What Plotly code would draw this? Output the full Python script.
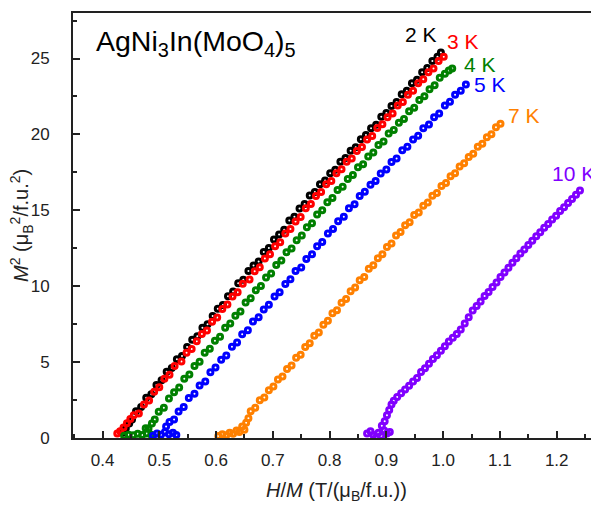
import plotly.graph_objects as go

# ---- data (H/M in T/(muB/f.u.), M^2 in muB^2/f.u.^2) ----
x_2K = [0.436,0.441,0.447,0.452,0.459,0.468,0.477,0.486,0.495,0.504,0.513,0.522,0.531,0.540,0.549,0.558,0.567,0.576,0.585,0.594,0.603,0.612,0.621,0.630,0.639,0.648,0.657,0.666,0.675,0.684,0.693,0.702,0.711,0.720,0.729,0.738,0.747,0.756,0.765,0.774,0.783,0.792,0.801,0.810,0.819,0.828,0.837,0.846,0.855,0.864,0.873,0.882,0.891,0.900,0.909,0.918,0.927,0.936,0.945,0.954,0.963,0.972,0.981,0.990,0.996]
y_2K = [0.35,0.62,0.95,1.22,1.77,2.05,2.65,2.88,3.49,3.81,4.36,4.62,5.19,5.41,6.00,6.48,6.70,7.26,7.50,8.04,8.52,8.77,9.34,9.66,10.20,10.42,11.00,11.36,11.63,12.26,12.52,13.07,13.40,13.72,14.33,14.58,15.12,15.42,15.97,16.20,16.72,16.96,17.44,17.67,18.20,18.44,18.92,19.16,19.69,19.96,20.41,20.63,21.17,21.41,21.88,22.13,22.64,22.88,23.37,23.61,24.09,24.37,24.84,25.12,25.39]

x_3K = [0.426,0.431,0.437,0.443,0.449,0.455,0.464,0.473,0.482,0.491,0.500,0.509,0.518,0.527,0.539,0.548,0.557,0.566,0.575,0.584,0.593,0.602,0.611,0.620,0.629,0.638,0.647,0.659,0.668,0.677,0.686,0.695,0.704,0.713,0.722,0.731,0.740,0.749,0.758,0.767,0.776,0.785,0.794,0.803,0.812,0.821,0.830,0.839,0.848,0.857,0.866,0.875,0.884,0.893,0.902,0.911,0.920,0.929,0.938,0.947,0.956,0.965,0.974,0.983,0.992,1.001]
y_3K = [0.30,0.45,0.70,0.98,1.25,1.50,1.62,2.20,2.47,3.05,3.34,3.91,4.16,4.74,5.04,5.61,5.86,6.38,6.85,7.09,7.66,7.94,8.50,8.79,9.33,9.60,10.17,10.44,10.98,11.25,11.83,12.10,12.63,12.89,13.48,13.77,14.27,14.56,15.14,15.42,15.94,16.20,16.71,16.93,17.44,17.70,18.20,18.41,18.91,19.18,19.67,19.90,20.43,20.67,21.14,21.38,21.90,22.14,22.61,22.87,23.37,23.63,24.09,24.35,24.84,25.12]

x_4K = [0.438,0.446,0.454,0.462,0.470,0.478,0.486,0.476,0.481,0.487,0.492,0.499,0.508,0.517,0.526,0.535,0.544,0.553,0.562,0.571,0.580,0.589,0.598,0.607,0.616,0.625,0.634,0.643,0.652,0.661,0.670,0.679,0.688,0.697,0.706,0.715,0.724,0.733,0.742,0.751,0.760,0.769,0.778,0.787,0.796,0.805,0.814,0.823,0.832,0.841,0.850,0.859,0.868,0.877,0.886,0.895,0.904,0.913,0.922,0.931,0.940,0.949,0.958,0.967,0.976,0.985,0.994,1.003,1.010,1.016]
y_4K = [0.15,0.22,0.18,0.28,0.20,0.30,0.22,0.65,0.62,0.95,1.22,1.73,2.00,2.61,3.01,3.32,3.91,4.19,4.75,5.03,5.61,5.88,6.40,6.67,7.26,7.55,8.05,8.33,8.93,9.20,9.73,10.02,10.58,10.84,11.39,11.70,12.24,12.49,13.03,13.34,13.88,14.15,14.73,15.01,15.53,15.82,16.34,16.56,17.07,17.33,17.83,18.03,18.54,18.81,19.30,19.53,20.06,20.30,20.77,21.02,21.53,21.75,22.26,22.52,22.98,23.24,23.73,23.99,24.22,24.35]

x_5K = [0.489,0.496,0.503,0.510,0.517,0.524,0.530,0.512,0.518,0.526,0.534,0.543,0.552,0.562,0.571,0.581,0.590,0.599,0.609,0.618,0.628,0.637,0.646,0.656,0.665,0.675,0.684,0.693,0.703,0.712,0.722,0.731,0.740,0.750,0.759,0.769,0.778,0.787,0.797,0.806,0.815,0.825,0.834,0.844,0.853,0.862,0.872,0.881,0.890,0.900,0.909,0.918,0.928,0.937,0.947,0.956,0.965,0.975,0.984,0.993,1.003,1.012,1.021,1.031,1.040]
y_5K = [0.15,0.30,0.22,0.40,0.25,0.35,0.20,0.75,1.05,1.22,1.75,2.04,2.63,2.91,3.46,3.73,4.34,4.64,5.15,5.44,6.02,6.29,6.83,7.10,7.68,7.96,8.47,8.78,9.33,9.60,10.15,10.46,11.00,11.24,11.79,12.10,12.64,12.91,13.48,13.77,14.28,14.58,15.13,15.40,15.95,16.22,16.68,16.94,17.43,17.69,18.18,18.42,18.95,19.19,19.66,19.91,20.41,20.66,21.13,21.38,21.90,22.15,22.62,22.88,23.29]

x_7K = [0.604,0.611,0.618,0.624,0.630,0.636,0.641,0.646,0.650,0.653,0.657,0.661,0.669,0.677,0.685,0.693,0.701,0.709,0.717,0.725,0.733,0.741,0.749,0.757,0.765,0.773,0.781,0.789,0.797,0.805,0.813,0.821,0.829,0.837,0.845,0.853,0.861,0.869,0.877,0.885,0.893,0.901,0.909,0.917,0.925,0.933,0.941,0.949,0.957,0.965,0.973,0.981,0.989,0.997,1.005,1.013,1.021,1.029,1.037,1.045,1.053,1.061,1.069,1.077,1.085,1.093,1.101]
y_7K = [0.13,0.25,0.18,0.35,0.28,0.50,0.40,0.75,0.55,1.00,1.30,1.77,1.99,2.49,2.67,3.15,3.39,3.86,4.05,4.54,4.77,5.28,5.49,5.99,6.24,6.74,6.95,7.46,7.72,8.22,8.42,8.91,9.16,9.67,9.91,10.39,10.61,11.15,11.38,11.84,12.10,12.59,12.82,13.34,13.57,14.01,14.21,14.69,14.85,15.30,15.52,15.96,16.14,16.61,16.80,17.24,17.44,17.89,18.10,18.52,18.72,19.19,19.38,19.82,20.02,20.47,20.71]

x_10K = [0.866,0.872,0.877,0.882,0.886,0.891,0.896,0.901,0.906,0.892,0.897,0.901,0.905,0.909,0.913,0.919,0.926,0.933,0.940,0.947,0.954,0.961,0.968,0.975,0.982,0.989,0.996,1.003,1.010,1.017,1.024,1.031,1.038,1.045,1.052,1.059,1.066,1.073,1.080,1.087,1.094,1.101,1.108,1.115,1.122,1.129,1.136,1.143,1.150,1.157,1.164,1.171,1.178,1.185,1.192,1.199,1.206,1.213,1.220,1.227,1.234,1.241]
y_10K = [0.30,0.45,0.20,0.05,0.35,0.15,0.50,0.30,0.40,0.80,1.10,1.50,1.85,2.20,2.45,2.70,2.95,3.20,3.45,3.72,3.95,4.35,4.60,4.90,5.20,5.45,5.75,6.05,6.35,6.60,6.85,7.15,7.55,7.95,8.40,8.70,9.00,9.35,9.62,9.95,10.25,10.60,10.90,11.22,11.55,11.85,12.15,12.42,12.72,13.00,13.30,13.55,13.85,14.10,14.40,14.65,14.95,15.20,15.48,15.75,16.02,16.30]

series_names = ["2 K", "3 K", "4 K", "5 K", "7 K", "10 K"]
series_x = [x_2K, x_3K, x_4K, x_5K, x_7K, x_10K]
series_y = [y_2K, y_3K, y_4K, y_5K, y_7K, y_10K]
colors = ["#000000", "#ff0000", "#008000", "#0000ff", "#ff8000", "#8000ff"]
# label anchor positions (data coords)
label_x = [0.9615, 1.035, 1.065, 1.082, 1.1425, 1.2297]
label_y = [26.6, 26.15, 24.6, 23.3, 21.25, 17.4]

x_ticks = [0.4, 0.5, 0.6, 0.7, 0.8, 0.9, 1.0, 1.1, 1.2]
x_ticklabels = ["0.4", "0.5", "0.6", "0.7", "0.8", "0.9", "1.0", "1.1", "1.2"]
y_ticks = [0, 5, 10, 15, 20, 25]

FONT = "Liberation Sans, Arial, sans-serif"

fig = go.Figure()
for name, xs, ys, c in zip(series_names, series_x, series_y, colors):
    fig.add_trace(go.Scatter(
        x=xs, y=ys, mode="markers", name=name,
        marker=dict(symbol="circle-open", size=5, color=c, line=dict(width=3, color=c)),
        showlegend=False, cliponaxis=True,
    ))

for name, lx, ly, c in zip(series_names, label_x, label_y, colors):
    fig.add_annotation(x=lx, y=ly, xref="x", yref="y", text=name, showarrow=False,
                       font=dict(family=FONT, size=21, color=c), xanchor="center", yanchor="middle")

fig.add_annotation(x=0.039, y=0.929, xref="paper", yref="paper",
                   text="AgNi<sub>3</sub>In(MoO<sub>4</sub>)<sub>5</sub>", showarrow=False,
                   font=dict(family=FONT, size=28.5, color="#000000"), xanchor="left", yanchor="middle")

# axis titles as annotations for exact placement
fig.add_annotation(x=0.5, y=-0.127, xref="paper", yref="paper",
                   text="<i>H</i>/<i>M</i> (T/(μ<sub>B</sub>/f.u.))", showarrow=False,
                   font=dict(family=FONT, size=20, color="#222222"), xanchor="center", yanchor="middle")
fig.add_annotation(x=-0.098, y=0.5, xref="paper", yref="paper", textangle=-90,
                   text="<i>M</i><sup>2</sup> (μ<sub>B</sub><sup>2</sup>/f.u.<sup>2</sup>)", showarrow=False,
                   font=dict(family=FONT, size=20, color="#222222"), xanchor="center", yanchor="middle")

# the page adds an 8 px body margin, so the figure is 8 px smaller than the window
fig.update_layout(
    width=591, height=498,
    margin=dict(l=65, r=0, t=5, b=68, autoexpand=False),
    plot_bgcolor="white", paper_bgcolor="white",
    font=dict(family=FONT, size=17, color="#222222"),
)
fig.update_xaxes(
    range=[0.348, 1.2745], tickmode="array", tickvals=x_ticks, ticktext=x_ticklabels,
    ticks="inside", ticklen=7, tickwidth=1.5, tickcolor="#222222",
    minor=dict(ticks="inside", ticklen=4, tickwidth=1.5, tickcolor="#222222", dtick=0.05, showgrid=False),
    showline=True, linecolor="#222222", linewidth=1.8, mirror=True,
    showgrid=False, zeroline=False, ticklabelstandoff=6, automargin=False,
    tickfont=dict(family=FONT, size=17, color="#222222"),
)
fig.update_yaxes(
    range=[0, 28], tickmode="array", tickvals=y_ticks,
    ticks="inside", ticklen=7, tickwidth=1.5, tickcolor="#222222",
    minor=dict(ticks="inside", ticklen=4, tickwidth=1.5, tickcolor="#222222", dtick=2.5, showgrid=False),
    showline=True, linecolor="#222222", linewidth=1.8, mirror=False,
    showgrid=False, zeroline=False, ticklabelstandoff=18, automargin=False,
    tickfont=dict(family=FONT, size=17, color="#222222"),
)

fig.write_html("out.html")
